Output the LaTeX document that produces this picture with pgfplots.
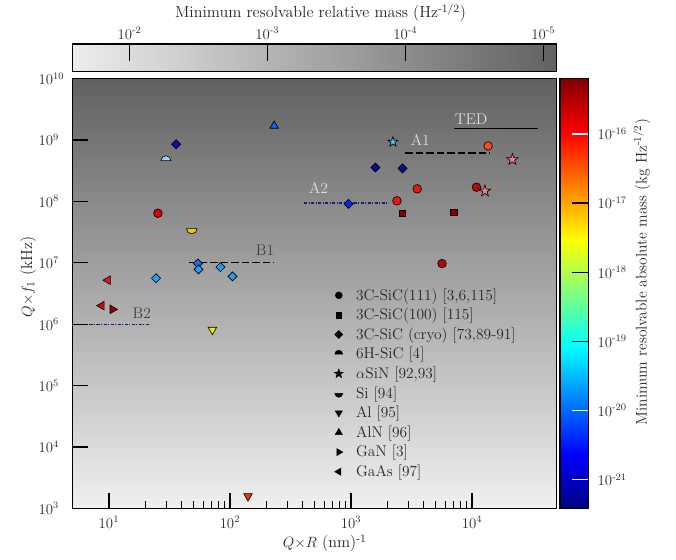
\documentclass[border=0pt]{standalone}
\usepackage{pgfplots}
\pgfplotsset{compat=1.18}
\usetikzlibrary{plotmarks}

\definecolor{tickgray}{gray}{0.18}
\definecolor{bgtop}{gray}{0.38}
\definecolor{bgbot}{gray}{0.94}
\definecolor{navyline}{RGB}{30,30,110}
\definecolor{cAlN}{RGB}{30,90,235}
\definecolor{cCryoA}{RGB}{10,10,190}
\definecolor{c6H}{RGB}{170,205,240}
\definecolor{cRed}{RGB}{220,0,0}
\definecolor{cRedB}{RGB}{232,20,20}
\definecolor{cSi}{RGB}{240,200,0}
\definecolor{cBlueD}{RGB}{30,110,235}
\definecolor{cLBlue}{RGB}{30,160,240}
\definecolor{cGaAs}{RGB}{225,25,25}
\definecolor{cGaAsB}{RGB}{200,10,10}
\definecolor{cGaN}{RGB}{150,0,0}
\definecolor{cAlY}{RGB}{240,240,0}
\definecolor{cAlR}{RGB}{240,50,0}
\definecolor{cCyan}{RGB}{70,200,240}
\definecolor{cOrange}{RGB}{240,75,40}
\definecolor{cPink}{RGB}{240,130,130}
\definecolor{cNavy}{RGB}{0,20,140}
\definecolor{cDRed}{RGB}{180,10,10}
\definecolor{cBlue}{RGB}{0,40,240}
\definecolor{cSq}{RGB}{140,0,0}

\newcommand\bigtxt{\fontsize{12.5}{15}\selectfont}
\newcommand\labtxt{\fontsize{13}{15.5}\selectfont}

% filled five-point star
\pgfdeclareplotmark{fstar}{%
  \pgfpathmoveto{\pgfpointpolar{90}{\pgfplotmarksize}}%
  \pgfpathlineto{\pgfpointpolar{126}{0.4\pgfplotmarksize}}%
  \pgfpathlineto{\pgfpointpolar{162}{\pgfplotmarksize}}%
  \pgfpathlineto{\pgfpointpolar{198}{0.4\pgfplotmarksize}}%
  \pgfpathlineto{\pgfpointpolar{234}{\pgfplotmarksize}}%
  \pgfpathlineto{\pgfpointpolar{270}{0.4\pgfplotmarksize}}%
  \pgfpathlineto{\pgfpointpolar{306}{\pgfplotmarksize}}%
  \pgfpathlineto{\pgfpointpolar{342}{0.4\pgfplotmarksize}}%
  \pgfpathlineto{\pgfpointpolar{18}{\pgfplotmarksize}}%
  \pgfpathlineto{\pgfpointpolar{54}{0.4\pgfplotmarksize}}%
  \pgfpathclose\pgfusepathqfillstroke}
% half discs
\pgfdeclareplotmark{tophalf}{%
  \pgfpathmoveto{\pgfqpoint{\pgfplotmarksize}{0pt}}%
  \pgfpatharc{0}{180}{\pgfplotmarksize}%
  \pgfpathclose\pgfusepathqfillstroke}
\pgfdeclareplotmark{bothalf}{%
  \pgfpathmoveto{\pgfqpoint{-\pgfplotmarksize}{0pt}}%
  \pgfpatharc{180}{360}{\pgfplotmarksize}%
  \pgfpathclose\pgfusepathqfillstroke}

\pgfplotsset{mk/.style 2 args={only marks, forget plot,
  mark options={draw=black, line width=0.5pt, fill=#1, rotate=#2}}}

\begin{document}
\begin{tikzpicture}
\path (0,0) rectangle (547.56pt,451.98pt);

% ---- main axis ----
\begin{axis}[
  at={(58.73pt,41.31pt)}, anchor=south west,
  scale only axis, width=392.04pt, height=348.1pt,
  xmode=log, ymode=log,
  xmin=5, xmax=5e4, ymin=1e3, ymax=1e10,
  axis on top,
  axis line style={line width=1.2pt},
  tick pos=left, tick align=inside,
  major tick length=12.4pt, minor tick length=5.8pt,
  tick style={black, line width=1pt},
  minor tick style={line width=0.8pt},
  yminorticks=false,
  ytick={1e3,1e4,1e5,1e6,1e7,1e8,1e9,1e10},
  xtick={10,100,1000,10000},
  every tick label/.append style={font=\large, text=tickgray},
  yticklabel style={anchor=west, xshift=-31pt},
  xticklabel style={yshift=-3pt},
  legend image code/.code={\draw[#1] plot coordinates {(0.25cm,0cm)}; \path (0cm,0cm) (0.7cm,0cm);},
  legend style={at={(0.531,0.519)}, anchor=north west, draw=none, fill=none,
    font=\bigtxt, text=black!85, inner sep=0pt,
    nodes={inner xsep=1pt, inner ysep=2.5pt}},
  legend cell align=left,
]
\fill[top color=bgtop, bottom color=bgbot] (rel axis cs:0,0) rectangle (rel axis cs:1,1);

\addlegendimage{black, mark=*, mark size=2.8pt}
\addlegendentry{3C-SiC(111) [3,6,115]}
\addlegendimage{black, mark=square*, mark size=2.3pt}
\addlegendentry{3C-SiC(100) [115]}
\addlegendimage{black, mark=square*, mark size=2.3pt, mark options={rotate=45}}
\addlegendentry{3C-SiC (cryo) [73,89-91]}
\addlegendimage{black, mark=tophalf, mark size=3.2pt}
\addlegendentry{6H-SiC [4]}
\addlegendimage{black, mark=fstar, mark size=3.8pt}
\addlegendentry{$\alpha$SiN [92,93]}
\addlegendimage{black, mark=bothalf, mark size=3.2pt}
\addlegendentry{Si [94]}
\addlegendimage{black, mark=triangle*, mark size=3.3pt, mark options={rotate=180}}
\addlegendentry{Al [95]}
\addlegendimage{black, mark=triangle*, mark size=3.3pt}
\addlegendentry{AlN [96]}
\addlegendimage{black, mark=triangle*, mark size=3.3pt, mark options={rotate=-90}}
\addlegendentry{GaN [3]}
\addlegendimage{black, mark=triangle*, mark size=3.3pt, mark options={rotate=90}}
\addlegendentry{GaAs [97]}

% limit lines
\addplot[forget plot, black, line width=1.2pt] coordinates {(7160,1.55e9) (35200,1.55e9)};
\addplot[forget plot, black, line width=1.2pt, dash pattern=on 6pt off 2.5pt] coordinates {(2810,6.1e8) (13900,6.1e8)};
\addplot[forget plot, navyline, line width=0.9pt, dash pattern=on 2.5pt off 1.2pt on 0.8pt off 1.2pt] coordinates {(411,9.4e7) (2010,9.4e7)};
\addplot[forget plot, navyline, line width=0.9pt, dash pattern=on 2.5pt off 1.2pt on 0.8pt off 1.2pt] coordinates {(6.9,1e6) (21.9,1e6)};

% 3C-SiC(111)
\addplot[mk={cRed}{0}, mark=*, mark size=3.5pt] coordinates {(25.4,6.4e7)};
\addplot[mk={cOrange}{0}, mark=*, mark size=3.5pt] coordinates {(13600,8e8)};
\addplot[mk={cRedB}{0}, mark=*, mark size=3.5pt] coordinates {(3530,1.6e8) (2400,1.02e8)};
\addplot[mk={cDRed}{0}, mark=*, mark size=3.5pt] coordinates {(10900,1.7e8) (5660,9.7e6)};
% 3C-SiC(100)
\addplot[mk={cSq}{0}, mark=square*, mark size=2.7pt] coordinates {(2655,6.4e7) (7060,6.6e7)};
% 3C-SiC (cryo)
\addplot[mk={cCryoA}{45}, mark=square*, mark size=2.6pt] coordinates {(35.9,8.5e8)};
\addplot[mk={cNavy}{45}, mark=square*, mark size=2.6pt] coordinates {(1590,3.56e8) (2670,3.44e8)};
\addplot[mk={cBlue}{45}, mark=square*, mark size=2.6pt] coordinates {(955,9.1e7)};
\addplot[mk={cBlueD}{45}, mark=square*, mark size=2.6pt] coordinates {(54.3,9.7e6)};
\addplot[mk={cLBlue}{45}, mark=square*, mark size=2.6pt] coordinates {(55,7.8e6) (83.4,8.5e6) (105,6e6) (24.5,5.6e6)};
% 6H-SiC
\addplot[mk={c6H}{0}, mark=tophalf, mark size=4pt] coordinates {(29.6,4.6e8)};
% aSiN
\addplot[mk={cCyan}{0}, mark=fstar, mark size=4.2pt] coordinates {(2223,9.3e8)};
\addplot[mk={cPink}{0}, mark=fstar, mark size=4.8pt] coordinates {(21600,4.8e8) (12800,1.47e8)};
% Si
\addplot[mk={cSi}{0}, mark=bothalf, mark size=4.3pt] coordinates {(48.4,3.6e7)};
% Al
\addplot[mk={cAlY}{180}, mark=triangle*, mark size=4pt] coordinates {(71.6,8.1e5)};
\addplot[mk={cAlR}{180}, mark=triangle*, mark size=4pt] coordinates {(141,1.58e3)};
% AlN
\addplot[mk={cAlN}{0}, mark=triangle*, mark size=4pt] coordinates {(232,1.7e9)};
% GaN
\addplot[mk={cGaN}{-90}, mark=triangle*, mark size=4pt] coordinates {(10.7,1.74e6)};
% GaAs
\addplot[mk={cGaAs}{90}, mark=triangle*, mark size=4pt] coordinates {(9.8,5.2e6)};
\addplot[mk={cGaAsB}{90}, mark=triangle*, mark size=4pt] coordinates {(8.7,2e6)};

\addplot[forget plot, black, line width=1.2pt, dash pattern=on 6pt off 2.5pt] coordinates {(46.2,1e7) (229,1e7)};

\node[font=\bigtxt, text=black!75] at (axis cs:195,1.6e7) {B1};
\node[font=\bigtxt, text=black!75] at (axis cs:18.7,1.5e6) {B2};
\node[font=\bigtxt, text=white!88!black] at (axis cs:9850,2.2e9) {TED};
\node[font=\bigtxt, text=white!88!black] at (axis cs:3740,1e9) {A1};
\node[font=\bigtxt, text=white!88!black] at (axis cs:540,1.64e8) {A2};
\end{axis}

% ---- relative mass bar (top) ----
\begin{axis}[
  at={(58.73pt,395.28pt)}, anchor=south west,
  scale only axis, width=392.04pt, height=22.1pt,
  xmin=1.587, xmax=5.096, ymin=0, ymax=1,
  axis on top, axis line style={line width=1.2pt},
  ytick=\empty, xtick={2,3,4,5},
  xticklabels={10\textsuperscript{-2},10\textsuperscript{-3},10\textsuperscript{-4},10\textsuperscript{-5}},
  xtick pos=right, xticklabel pos=right, tick align=inside,
  major tick length=14pt, tick style={black, line width=1pt},
  every tick label/.append style={font=\large, text=tickgray},
]
\fill[left color=white!93!black, right color=black!62] (rel axis cs:0,0) rectangle (rel axis cs:1,1);
\end{axis}

% ---- absolute mass colour bar (right) ----
\begin{axis}[
  at={(453.6pt,41.31pt)}, anchor=south west,
  scale only axis, width=22.9pt, height=348.1pt,
  xmin=0, xmax=1, ymin=-21.415, ymax=-15.2,
  axis on top, axis line style={line width=1.2pt},
  xtick=\empty,
  ytick={-19,-18,-17},
  yticklabels={10\textsuperscript{-19},10\textsuperscript{-18},10\textsuperscript{-17}},
  extra y ticks={-21,-20,-16},
  extra y tick labels={10\textsuperscript{-21},10\textsuperscript{-20},10\textsuperscript{-16}},
  extra y tick style={major tick length=0pt},
  ytick pos=right, yticklabel pos=right, tick align=inside,
  major tick length=13pt, tick style={black, line width=1pt},
  every tick label/.append style={font=\large, text=tickgray},
  yticklabel style={xshift=4pt},
  colormap/jet, point meta min=-21.415, point meta max=-15.2,
]
\addplot[surf, shader=interp, point meta=explicit, mesh/rows=2] coordinates {
  (0,-21.415) [-21.415] (1,-21.415) [-21.415]
  (0,-15.2) [-15.2] (1,-15.2) [-15.2]
};
% white ticks where the bar is dark
\draw[white, line width=1pt] (axis cs:1,-21) -- ++(-13pt,0pt);
\draw[white, line width=1pt] (axis cs:1,-20) -- ++(-13pt,0pt);
\draw[white, line width=1pt] (axis cs:1,-16) -- ++(-13pt,0pt);
\end{axis}

\node[font=\labtxt, text=black!85] at (259.6pt,442.5pt) {Minimum resolvable relative mass (Hz\textsuperscript{-1/2})};
\node[font=\labtxt, text=black!85] at (263pt,13.2pt) {$Q{\times}R$ (nm)\textsuperscript{-1}};
\node[font=\labtxt, text=black!85, rotate=90] at (22.7pt,228.7pt) {$Q{\times}f_1$ (kHz)};
\node[font=\bigtxt, text=black!85, rotate=90] at (519.8pt,232.6pt) {Minimum resolvable absolute mass (kg Hz\textsuperscript{-1/2})};
\end{tikzpicture}
\end{document}
